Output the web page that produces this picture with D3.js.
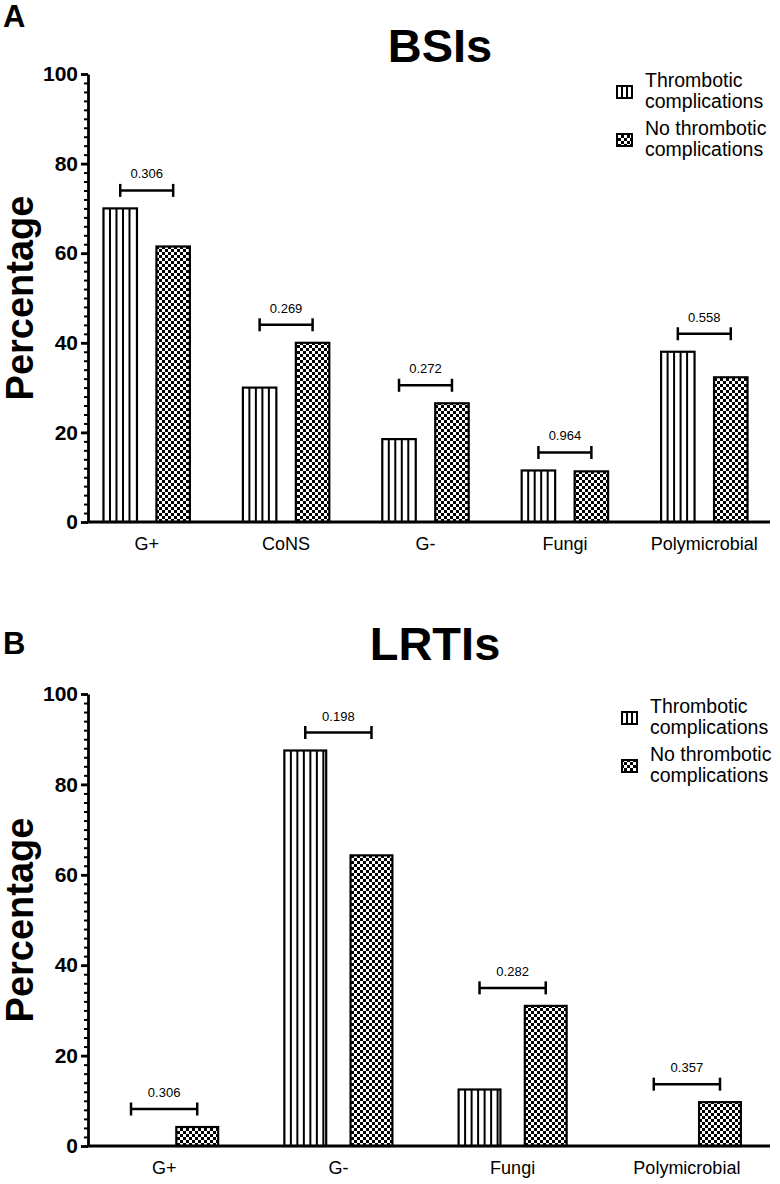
<!DOCTYPE html>
<html>
<head>
<meta charset="utf-8">
<script src="https://cdn.jsdelivr.net/npm/d3@7"></script>
<style>
  html, body { margin: 0; padding: 0; background: #fff; }
  svg { display: block; font-family: "Liberation Sans", Arial, sans-serif; }
</style>
</head>
<body>
<svg id="chart" width="780" height="1184"></svg>
<script>
// ---------------- DATA ----------------
const seriesNames = ["Thrombotic complications", "No thrombotic complications"];
const legendLines = [["Thrombotic", "complications"], ["No thrombotic", "complications"]];

const categoriesA = ["G+", "CoNS", "G-", "Fungi", "Polymicrobial"];
const thromboticA = [70, 30, 18.5, 11.5, 38];
const noThromboticA = [61.5, 40, 26.5, 11.3, 32.3];
const pValuesA = ["0.306", "0.269", "0.272", "0.964", "0.558"];

const categoriesB = ["G+", "G-", "Fungi", "Polymicrobial"];
const thromboticB = [0, 87.5, 12.5, 0];
const noThromboticB = [4.2, 64.3, 31, 9.7];
const pValuesB = ["0.306", "0.198", "0.282", "0.357"];

const yTicks = [0, 20, 40, 60, 80, 100];
const yDomain = [0, 100];

// ---------------- DRAW ----------------
const svg = d3.select("#chart");
const defs = svg.append("defs");
const checker = defs.append("pattern").attr("id", "checker")
  .attr("width", 6).attr("height", 6).attr("patternUnits", "userSpaceOnUse");
checker.append("rect").attr("width", 6).attr("height", 6).attr("fill", "#fff");
checker.append("rect").attr("width", 3).attr("height", 3).attr("fill", "#000");
checker.append("rect").attr("x", 3).attr("y", 3).attr("width", 3).attr("height", 3).attr("fill", "#000");

function stripedRect(g, x0, y0, w, h, sw, period) {
  g.append("rect").attr("x", x0).attr("y", y0).attr("width", w).attr("height", h)
    .attr("fill", "#fff").attr("stroke", "#000").attr("stroke-width", sw);
  for (let sx = x0 + period; sx < x0 + w - 2; sx += period) {
    g.append("line").attr("x1", sx).attr("x2", sx).attr("y1", y0).attr("y2", y0 + h)
      .attr("stroke", "#000").attr("stroke-width", 2);
  }
}

function drawPanel(cfg) {
  const { letter, title, cats, t, n, p, top, bottom, letterY, titleY, titleX, legendTop, legendX } = cfg;
  const g = svg.append("g");
  const y = d3.scaleLinear().domain(yDomain).range([bottom, top]);
  const x = d3.scaleBand().domain(cats).range([77, 774]).paddingInner(0).paddingOuter(0);
  const step = x.step();
  const inner = d3.scaleBand().domain([0, 1]).range([-0.31 * step, 0.31 * step]).paddingInner(0.368);
  const bw = inner.bandwidth();
  const center = c => x(c) + step / 2;

  // panel letter & title
  g.append("text").attr("x", 3).attr("y", letterY).attr("font-size", 31).attr("font-weight", "bold").text(letter);
  g.append("text").attr("x", titleX).attr("y", titleY).attr("text-anchor", "middle")
    .attr("font-size", 47).attr("font-weight", "bold").text(title);

  // y axis label
  g.append("text").attr("transform", `translate(33,${(top + bottom) / 2}) rotate(-90)`)
    .attr("text-anchor", "middle").attr("font-size", 38).attr("font-weight", "bold").text("Percentage");

  // bars
  cats.forEach((c, i) => {
    const vals = [t[i], n[i]];
    vals.forEach((v, s) => {
      if (v <= 0) return;
      const bx = center(c) + inner(s);
      const by = y(v);
      const bh = y(0) - y(v);
      if (s === 0) stripedRect(g, bx, by, bw, bh, 2.2, 6.5);
      else g.append("rect").attr("x", bx).attr("y", by).attr("width", bw).attr("height", bh)
        .attr("fill", "url(#checker)").attr("stroke", "#000").attr("stroke-width", 2.2);
    });
    // p-value bracket
    const mx = Math.max(t[i], n[i]);
    const by = y(mx) - 18;
    const x1 = center(c) + inner(0) + bw / 2;
    const x2 = center(c) + inner(1) + bw / 2;
    g.append("line").attr("x1", x1).attr("x2", x2).attr("y1", by).attr("y2", by).attr("stroke", "#000").attr("stroke-width", 2.5);
    [x1, x2].forEach(xx => g.append("line").attr("x1", xx).attr("x2", xx).attr("y1", by - 6.5).attr("y2", by + 6.5)
      .attr("stroke", "#000").attr("stroke-width", 2.5));
    g.append("text").attr("x", (x1 + x2) / 2).attr("y", by - 12).attr("text-anchor", "middle")
      .attr("font-size", 13).text(p[i]);
  });

  // y axis minor ticks
  const minor = g.append("g").attr("transform", "translate(88,0)")
    .call(d3.axisLeft(y).ticks(50).tickSize(4).tickFormat(""));
  minor.select(".domain").remove();
  minor.selectAll("line").attr("stroke-width", 2);
  // y axis major
  const ax = g.append("g").attr("transform", "translate(88,0)")
    .call(d3.axisLeft(y).tickValues(yTicks).tickSize(7).tickSizeOuter(0).tickPadding(3));
  ax.select(".domain").attr("stroke-width", 2.8);
  ax.selectAll(".tick line").attr("stroke-width", 2.8);
  ax.selectAll(".tick text").attr("font-size", 21).attr("font-weight", "bold")
    .attr("font-family", "Liberation Sans, Arial, sans-serif").attr("fill", "#000");

  // x axis
  const xa = g.append("g").attr("transform", `translate(0,${bottom})`)
    .call(d3.axisBottom(x).tickSize(0).tickPadding(15));
  xa.select(".domain").remove();
  g.append("line").attr("x1", 87).attr("x2", 770).attr("y1", bottom).attr("y2", bottom)
    .attr("stroke", "#000").attr("stroke-width", 2.8);
  xa.selectAll(".tick text").attr("font-size", 18).attr("font-family", "Liberation Sans, Arial, sans-serif").attr("fill", "#000");

  // legend
  legendLines.forEach((lines, k) => {
    const base = legendTop + k * 48;
    lines.forEach((ln, j) => g.append("text").attr("x", legendX).attr("y", base + j * 20.5)
      .attr("font-size", 19.5).text(ln));
    const sy = base - 1;
    const sx = legendX - 28;
    if (k === 0) {
      stripedRect(g, sx, sy, 15, 12, 2, 5);
    } else {
      g.append("rect").attr("x", sx).attr("y", sy).attr("width", 15).attr("height", 12)
        .attr("fill", "url(#checker)").attr("stroke", "#000").attr("stroke-width", 2);
    }
  });
}

drawPanel({ letter: "A", title: "BSIs", cats: categoriesA, t: thromboticA, n: noThromboticA, p: pValuesA,
  top: 74, bottom: 522, letterY: 27, titleY: 62, titleX: 440, legendTop: 87, legendX: 645 });
drawPanel({ letter: "B", title: "LRTIs", cats: categoriesB, t: thromboticB, n: noThromboticB, p: pValuesB,
  top: 694, bottom: 1146, letterY: 654, titleY: 660, titleX: 435, legendTop: 713, legendX: 650 });
</script>
</body>
</html>
